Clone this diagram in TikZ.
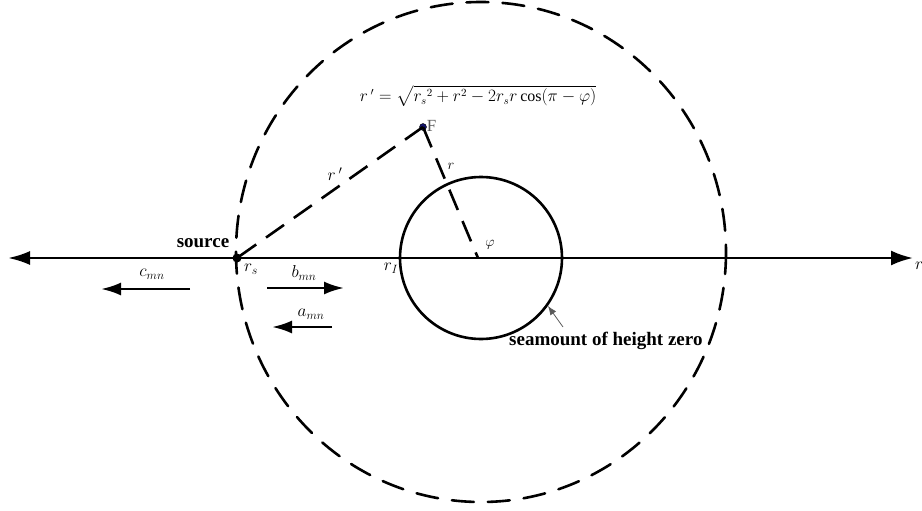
\documentclass[tikz,border=0pt]{standalone}
\definecolor{pointblue}{RGB}{20,20,110}
\definecolor{labelgray}{RGB}{90,90,90}
\usepackage{fontspec}
\setmainfont{Liberation Serif}
\usepackage{amsmath}
\usetikzlibrary{arrows.meta,positioning,calc}

\begin{document}
\begin{tikzpicture}[x=1pt,y=-1pt,
    axisline/.style={line width=2.6pt, {Latex[length=22pt,width=14pt]}-{Latex[length=22pt,width=15pt]}},
    dashcircle/.style={line width=2.6pt, dash pattern=on 22pt off 14pt, line cap=round},
    dashray/.style={line width=2.6pt, dash pattern=on 22pt off 12pt},
    wavearrow/.style={line width=2.6pt, -{Latex[length=20pt,width=13pt]}},
    lbl/.style={inner sep=1pt, font=\fontsize{17}{20}\selectfont},
    boldlbl/.style={inner sep=1pt, font=\bfseries\fontsize{19}{22}\selectfont}]
  \useasboundingbox (0,0) rectangle (922,511);
  % points
  \coordinate (src) at (237,258);
  \coordinate (O) at (478,258);
  \coordinate (Axl) at (8,258);
  \coordinate (Axr) at (913,258);
  % circles
  \draw[dashcircle] (481,252) ellipse [x radius=245, y radius=250];
  \draw[line width=2.6pt] (481,258) circle [radius=81];
  % axis
  \draw[axisline] (Axl) -- (Axr);
  \node[lbl, anchor=west] (rlab) at (914,266) {$r$};
  % field point
  \node[circle, fill=pointblue, draw=black, inner sep=0pt, minimum size=7pt] (F) at (423,127) {};
  \node[anchor=west, inner sep=1pt, text=labelgray, font=\fontsize{17}{20}\selectfont] (Flab) at ([yshift=-2pt]F.north east) {F};
  \draw[dashray] (F.center) -- (src);
  \draw[dashray] (F.center) -- (O);
  \fill (src) circle [radius=4.5];
  % labels
  \node[boldlbl] (srclab) at (203,243) {source};
  \node[lbl] (rs) at (251,269) {$r_s$};
  \node[lbl] (rI) at (391,268) {$r_I$};
  \node[lbl] (rprime) at (335,174) {$r\,'$};
  \node[lbl, font=\fontsize{14}{16}\selectfont] (rr) at (451,166) {$r$};
  \node[lbl, font=\fontsize{15}{18}\selectfont] (phi) at (490,245) {$\varphi$};
  \node[lbl, font=\fontsize{16}{18}\selectfont] (formula) at (478,96)
    {$r\,'=\sqrt{r_s{}^2+r^2-2r_s r\cos(\pi-\varphi)}$};
  % wave arrows
  \coordinate (c1) at (190,289); \coordinate (c2) at (101,289);
  \coordinate (b1) at (267,288); \coordinate (b2) at (344,288);
  \coordinate (a1) at (332,327); \coordinate (a2) at (272,327);
  \draw[wavearrow] (c1) -- (c2);
  \draw[wavearrow] (b1) -- (b2);
  \draw[wavearrow] (a1) -- (a2);
  \node[lbl] (cmn) at (152,274) {$c_{mn}$};
  \node[lbl] (bmn) at (304,273) {$b_{mn}$};
  \node[lbl] (amn) at (311,314) {$a_{mn}$};
  % seamount
  \node[boldlbl, anchor=west] (seam) at (508,341) {seamount of height zero};
  \coordinate (s1) at (563,327); \coordinate (s2) at (548,306);
  \draw[line width=0.8pt, labelgray, -{Latex[length=9pt,width=7pt]}] (s1) -- (s2);
\end{tikzpicture}
\end{document}
